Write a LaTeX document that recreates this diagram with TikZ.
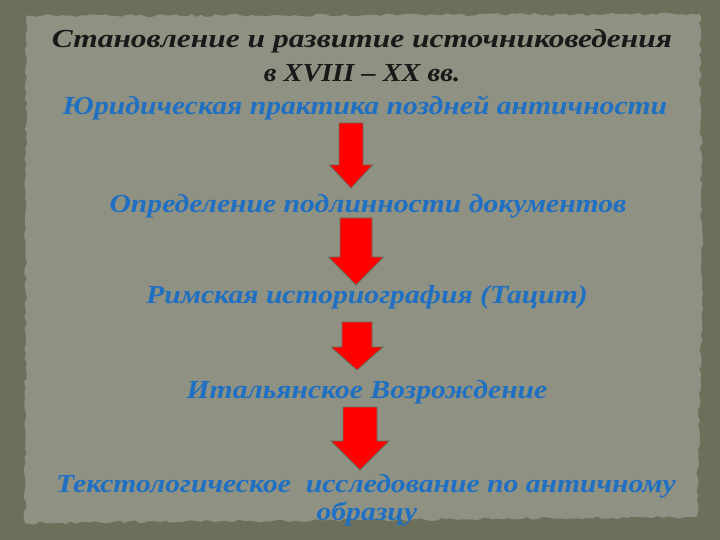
\documentclass[tikz,border=0pt]{standalone}
\usepackage{fontspec}
\setmainfont{Liberation Serif}
\newfontfamily\headfamily[FakeStretch=1.21]{Liberation Serif}
\newfontfamily\stagefamily[FakeStretch=1.14]{Liberation Serif}
\newfontfamily\datefamily[FakeStretch=1.09]{Liberation Serif}
\usetikzlibrary{decorations.pathmorphing}
\definecolor{frameolive}{HTML}{6C6F5A}
\definecolor{paper}{HTML}{8F9182}
\definecolor{stageblue}{HTML}{1F6FC2}
\definecolor{arrowred}{HTML}{FF0000}
\definecolor{arrowedge}{HTML}{66705E}
\newcommand{\headfont}{\headfamily\fontsize{26}{30}\selectfont\bfseries\itshape}
\newcommand{\datefont}{\datefamily\fontsize{26}{30}\selectfont\bfseries\itshape}
\newcommand{\stagefont}{\stagefamily\fontsize{26}{30}\selectfont\bfseries\itshape}
% block arrow: centre x, top, shaft half width, head half width, head y, tip y
\newcommand{\blockarrow}[6]{%
  \draw[redblock] (#1-#3,#2) -- (#1+#3,#2) -- (#1+#3,#5) -- (#1+#4,#5)
    -- (#1,#6) -- (#1-#4,#5) -- (#1-#3,#5) -- cycle;}

\begin{document}
\begin{tikzpicture}[x=1pt,y=-1pt,
  title/.style={anchor=base,inner sep=0pt,font=\headfont,text=black!90},
  stage/.style={anchor=base,inner sep=0pt,font=\stagefont,text=stageblue},
  redblock/.style={fill=arrowred,draw=arrowedge,line width=0.8pt,line join=miter}]
\useasboundingbox (0,0) rectangle (720,540);
\fill[frameolive] (0,0) rectangle (720,540);
\pgfmathsetseed{7}
\fill[paper,decorate,decoration={random steps,segment length=5pt,amplitude=1.5pt}]
  (26,16) -- (700,14) -- (702,300) -- (697,517) -- (360,520) -- (25,523) -- cycle;

\node[title] (head1) at (362,48) {Становление и развитие источниковедения};
\node[title,font=\datefont] (head2) at (362,82) {в XVIII – XX вв.};
\node[stage] (law)   at (365,115) {Юридическая практика поздней античности};
\node[stage] (auth)  at (368,212) {Определение подлинности документов};
\node[stage] (rome)  at (367,303) {Римская историография (Тацит)};
\node[stage] (ital)  at (367,398) {Итальянское Возрождение};
\node[stage] (text1) at (366,492) {Текстологическое~ исследование по античному};
\node[stage] (text2) at (367,520) {образцу};

\blockarrow{351}{123}{12}{21.5}{165}{188}
\blockarrow{356}{218}{16}{27.5}{257}{285}
\blockarrow{357}{322}{15}{26}{347}{370}
\blockarrow{360}{407}{17}{29}{441}{470}
\end{tikzpicture}
\end{document}
